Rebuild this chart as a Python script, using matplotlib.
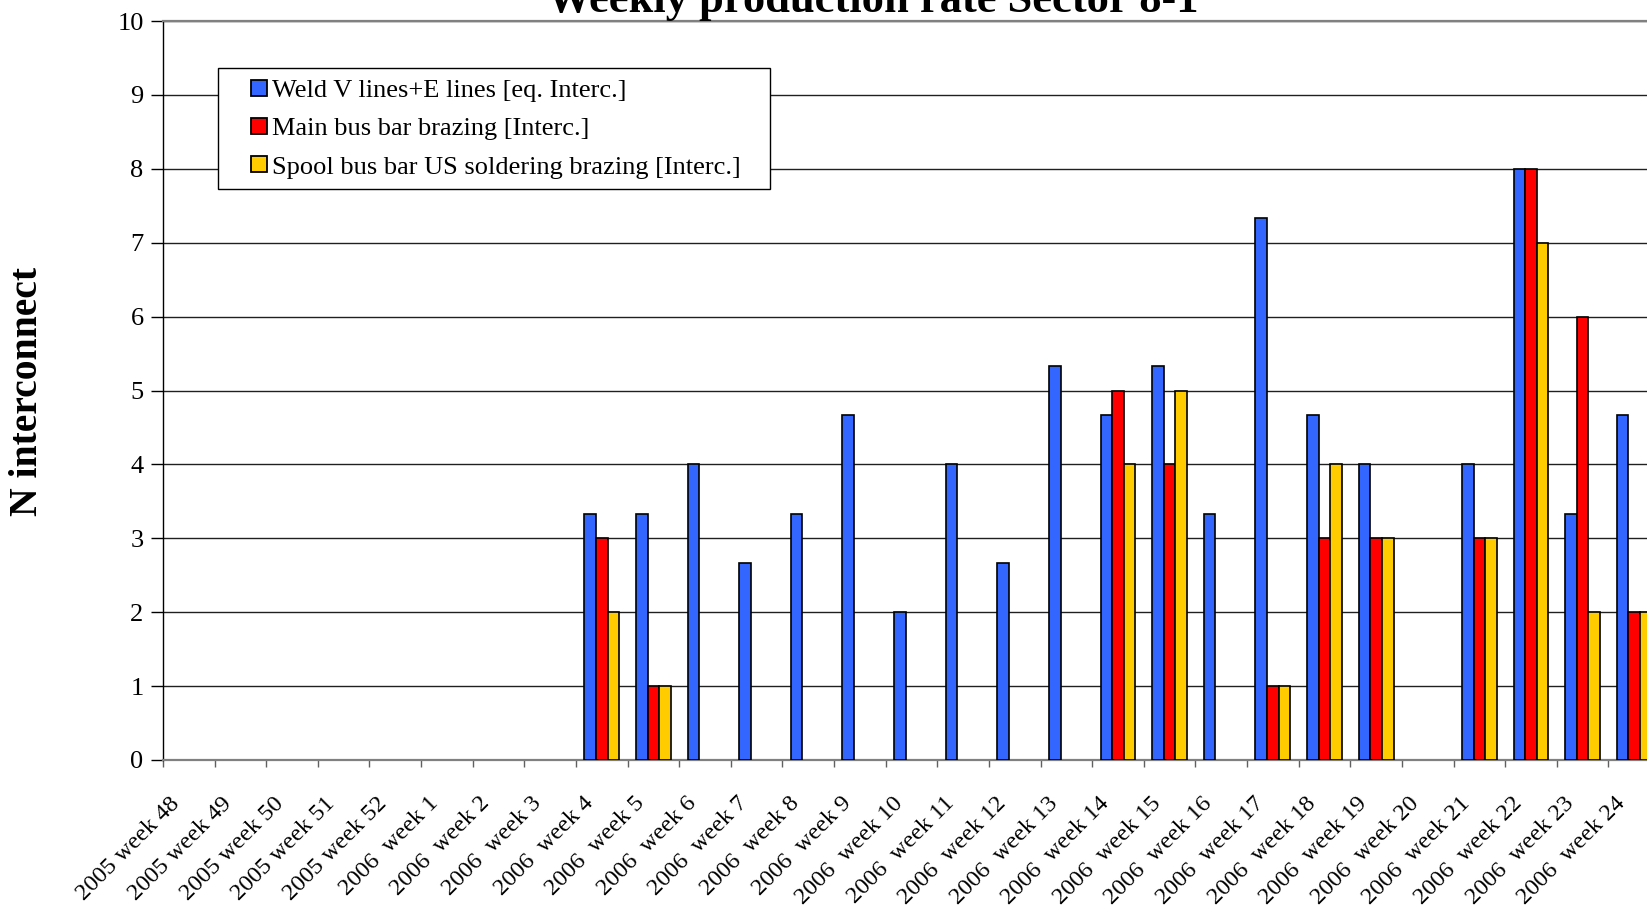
import matplotlib.pyplot as plt
import matplotlib.transforms as mtransforms
import numpy as np
from matplotlib.lines import Line2D

# weeks shown on the category axis
weeks = (["2005 week %d" % w for w in range(48, 53)]
         + ["2006  week %d" % w for w in range(1, 25)])

# values (eq. interconnects come in thirds)
weld = [0, 0, 0, 0, 0, 0, 0, 0,
        3.33, 3.33, 4, 2.67, 3.33, 4.67, 2, 4, 2.67, 5.33,
        4.67, 5.33, 3.33, 7.33, 4.67, 4, 0, 4, 8, 3.33, 4.67]
main_bus = [0, 0, 0, 0, 0, 0, 0, 0,
            3, 1, 0, 0, 0, 0, 0, 0, 0, 0,
            5, 4, 0, 1, 3, 3, 0, 3, 8, 6, 2]
spool_bus = [0, 0, 0, 0, 0, 0, 0, 0,
             2, 1, 0, 0, 0, 0, 0, 0, 0, 0,
             4, 5, 0, 1, 4, 3, 0, 3, 7, 2, 2]

names = ["Weld V lines+E lines [eq. Interc.]",
         "Main bus bar brazing [Interc.]",
         "Spool bus bar US soldering brazing [Interc.]"]
colors = ["#3366FF", "#FF0000", "#FFCC00"]

plt.rcParams["font.family"] = ["Liberation Serif", "DejaVu Serif"]

W, H = 1647, 905
fig = plt.figure(figsize=(W / 100, H / 100), dpi=100)
# plot area runs past the right edge of the picture, as in the original crop
left, right, top, bottom = 163, 1660, 21, 760
ax = fig.add_axes([left / W, 1 - bottom / H, (right - left) / W, (bottom - top) / H])

n = len(weeks)
x = np.arange(n) + 0.5
bw = 0.225
for k, (vals, c) in enumerate(zip([weld, main_bus, spool_bus], colors)):
    v = np.array(vals, dtype=float)
    v[v == 0] = np.nan  # empty weeks draw no bar
    ax.bar(x + (k - 1) * bw, v, bw, color=c, edgecolor="black",
           linewidth=1.2, zorder=3)

ax.set_xlim(0, n)
ax.set_ylim(0, 10)
ax.set_yticks(range(0, 11))
ax.tick_params(axis="y", labelsize=19, length=9, width=1, pad=5)
ax.yaxis.grid(True, color="#202020", linewidth=1, zorder=0)

ax.set_xticks(x)
ax.set_xticklabels(weeks, rotation=45, ha="right", va="center",
                   rotation_mode="anchor", fontsize=17.5)
ax.tick_params(axis="x", which="major", length=0, pad=29)
shift = mtransforms.ScaledTranslation(-12 / 100, 0, fig.dpi_scale_trans)
for lab in ax.get_xticklabels():
    lab.set_transform(lab.get_transform() + shift)
ax.set_xticks(np.arange(n + 1), minor=True)
ax.tick_params(axis="x", which="minor", length=5, width=1, color="#606060")

for s in ["top", "bottom"]:
    ax.spines[s].set_color("#808080")
    ax.spines[s].set_linewidth(1.6)
ax.spines["left"].set_linewidth(1)
ax.spines["right"].set_visible(False)

handles = [Line2D([], [], linestyle="none", marker="s", markersize=11,
                  markerfacecolor=c, markeredgecolor="black",
                  markeredgewidth=1.3) for c in colors]
leg = fig.legend(handles, names, loc="upper left",
                 bbox_to_anchor=(218 / W, 1 - 183 / H, (770 - 218) / W, (183 - 68) / H),
                 mode="expand", borderaxespad=0, borderpad=0.4,
                 fontsize=19, handlelength=2.3, handletextpad=-0.64,
                 labelspacing=0.56, fancybox=False, framealpha=1)
leg.get_frame().set_edgecolor("black")
leg.get_frame().set_linewidth(1)

fig.text(873 / W, 1 - 12 / H, "Weekly production rate Sector 8-1",
         ha="center", va="baseline", fontsize=32, fontweight="bold")
fig.text(28 / W, 1 - 391 / H, "N interconnect", rotation=90,
         ha="center", va="center", fontsize=28.5, fontweight="bold")

fig.savefig("out.png", dpi=100)
